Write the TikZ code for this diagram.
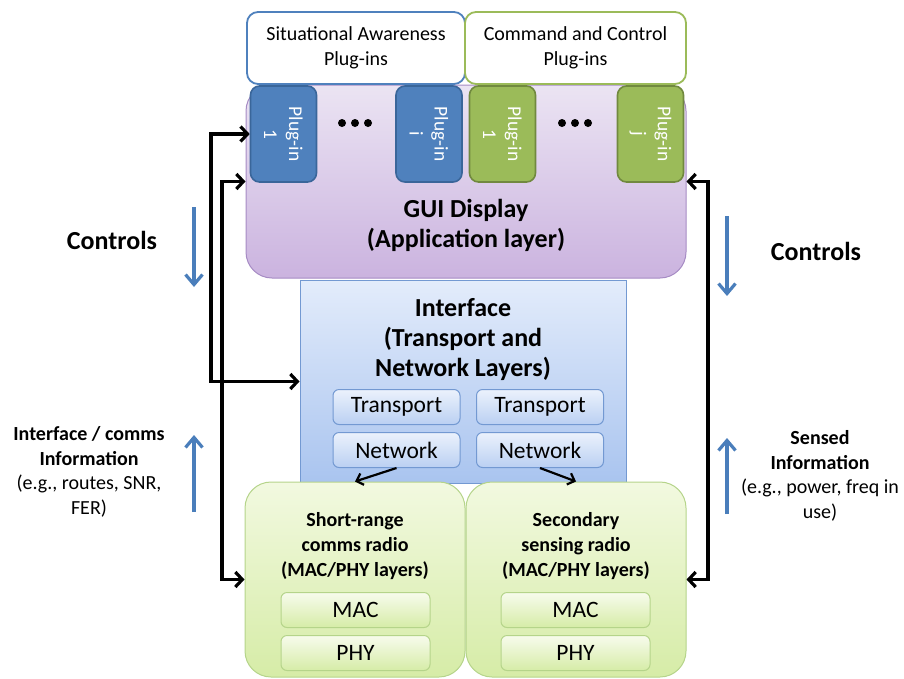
\documentclass[tikz,border=0pt]{standalone}
\usepackage{fontspec}
\setmainfont{Carlito}
\usetikzlibrary{arrows.meta,positioning,calc}

\definecolor{saBlue}{HTML}{4F81BD}
\definecolor{saBlueDk}{HTML}{3A669A}
\definecolor{ccGreen}{HTML}{9BBB59}
\definecolor{ccGreenDk}{HTML}{71893F}
\definecolor{guiTop}{HTML}{EBE4F3}
\definecolor{guiBot}{HTML}{CBB3DF}
\definecolor{guiLine}{HTML}{A68BC4}
\definecolor{ifTop}{HTML}{E3ECFB}
\definecolor{ifBot}{HTML}{A9C4EF}
\definecolor{ifLine}{HTML}{7399D2}
\definecolor{radTop}{HTML}{F2F9E0}
\definecolor{radBot}{HTML}{D6ECA7}
\definecolor{radLine}{HTML}{B5D48A}
\definecolor{arrBlue}{HTML}{4A7EBB}

\tikzset{
  barb/.tip={Straight Barb[length=7pt,width=15pt]},
  sbarb/.tip={Straight Barb[length=6pt,width=12pt]},
  fbarb/.tip={Straight Barb[length=10pt,width=17pt]},
}

\begin{document}
\begin{tikzpicture}[x=1pt,y=-1pt,
    every node/.style={inner sep=0pt},
    topbox/.style={draw,line width=1.8pt,fill=white,rounded corners=11pt,
      minimum height=72pt,align=center,font=\fontsize{20}{25}\selectfont},
    plugbox/.style={rotate=-90,rounded corners=9pt,line width=1.6pt,
      minimum width=96pt,minimum height=66pt,text=white,align=center,
      font=\fontsize{19.5}{25}\selectfont},
    guibox/.style={draw=guiLine,line width=1pt,rounded corners=26pt,
      top color=guiTop,bottom color=guiBot,minimum width=440pt,minimum height=193pt},
    ifbox/.style={draw=ifLine,line width=1pt,top color=ifTop,bottom color=ifBot,
      minimum width=326pt,minimum height=203pt},
    radbox/.style={draw=radLine,line width=1pt,rounded corners=26pt,
      top color=radTop,bottom color=radBot,minimum width=220pt,minimum height=195pt},
    layer/.style={rounded corners=6pt,line width=1pt,minimum height=35pt,
      font=\fontsize{23.5}{25}\selectfont},
    iflayer/.style={layer,draw=ifLine,top color=ifTop!70!white,bottom color=ifBot!80!white,
      minimum width=127pt},
    radlayer/.style={layer,draw=radLine,top color=radTop!60!white,bottom color=radBot,
      minimum width=149pt},
    bigtext/.style={align=center,font=\fontsize{26}{30}\selectfont\bfseries},
    midtext/.style={align=center,font=\fontsize{20}{25}\selectfont\bfseries},
    sidetext/.style={align=center,font=\fontsize{20}{24.5}\selectfont},
    bus/.style={line width=3.2pt,barb-barb},
    down/.style={line width=2.2pt,-sbarb},
    flow/.style={draw=arrBlue,line width=3.2pt,-fbarb},
  ]
\useasboundingbox (0,0) rectangle (904,678);

% layers
\node[ifbox] (iface) at (463,381.5) {};
\node[bigtext] (ifacet) at (463,340) {Interface\\(Transport and\\Network Layers)};
\node[iflayer] (tr1) at (396.5,407) {Transport};
\node[iflayer] (tr2) at (540,407) {Transport};
\node[iflayer] (nw1) at (396.5,450) {Network};
\node[iflayer] (nw2) at (540,450) {Network};

\node[guibox] (gui) at (466,181.5) {};
\node[bigtext] (guit) at (466,225) {GUI Display\\(Application layer)};

\node[radbox] (srr) at (355,579.5) {};
\node[radbox] (ssr) at (576,579.5) {};
\node[midtext] (srrt) at (355,546) {Short-range\\comms radio\\(MAC/PHY layers)};
\node[midtext] (ssrt) at (576,546) {Secondary\\sensing radio\\(MAC/PHY layers)};
\node[radlayer] (mac1) at (355.5,610) {MAC};
\node[radlayer] (phy1) at (355.5,653) {PHY};
\node[radlayer] (mac2) at (575.5,610) {MAC};
\node[radlayer] (phy2) at (575.5,653) {PHY};

% plug-ins
\node[topbox,draw=saBlue,minimum width=218pt] (sa) at (356,48) {Situational Awareness\\Plug-ins};
\node[topbox,draw=ccGreen,minimum width=221pt] (cc) at (575.5,48) {Command and Control\\Plug-ins};
\node[plugbox,draw=saBlueDk,fill=saBlue] (p1) at (283.5,134) {Plug-in\\1};
\node[plugbox,draw=saBlueDk,fill=saBlue] (pi) at (429,134) {Plug-in\\i};
\node[plugbox,draw=ccGreenDk,fill=ccGreen] (q1) at (502.5,134) {Plug-in\\1};
\node[plugbox,draw=ccGreenDk,fill=ccGreen] (qj) at (650.5,134) {Plug-in\\j};
\foreach \x in {342,355,368,562,575,588}
  \fill (\x,123) circle (4);

% control buses (rotated plug-ins: south is the left side)
\coordinate (lbus) at (211,0);
\coordinate (ibus) at (222,0);
\coordinate (rbus) at (708,0);
\draw[bus] (p1.south) -- (p1.south -| lbus) -- (lbus |- iface.west) -- (iface.west);
\draw[bus] (gui.west) -- (gui.west -| ibus) -- (ibus |- srr.west) -- (srr.west);
\draw[bus] (gui.east) -- (gui.east -| rbus) -- (rbus |- ssr.east) -- (ssr.east);
\draw[down] (nw1.south) -- (srr.north);
\draw[down] (nw2.south) -- (ssr.north);

% side notes
\node[bigtext] (ctlL) at (112,240) {Controls};
\node[bigtext] (ctlR) at (816,251) {Controls};
\node[sidetext] (infL) at (89,472) {\textbf{Interface / comms}\\\textbf{Information}\\(e.g., routes, SNR,\\FER)};
\node[sidetext] (infR) at (820,476) {\textbf{Sensed}\\\textbf{Information}\\(e.g., power, freq in\\use)};
\coordinate (cLa) at (194,207);
\coordinate (cLb) at (194,287);
\coordinate (iLa) at (194,512);
\coordinate (iLb) at (194,435);
\coordinate (cRa) at (727,216);
\coordinate (cRb) at (727,296);
\coordinate (iRa) at (727,514);
\coordinate (iRb) at (727,438);
\draw[flow] (cLa) -- (cLb);
\draw[flow] (iLa) -- (iLb);
\draw[flow] (cRa) -- (cRb);
\draw[flow] (iRa) -- (iRb);
\end{tikzpicture}
\end{document}
